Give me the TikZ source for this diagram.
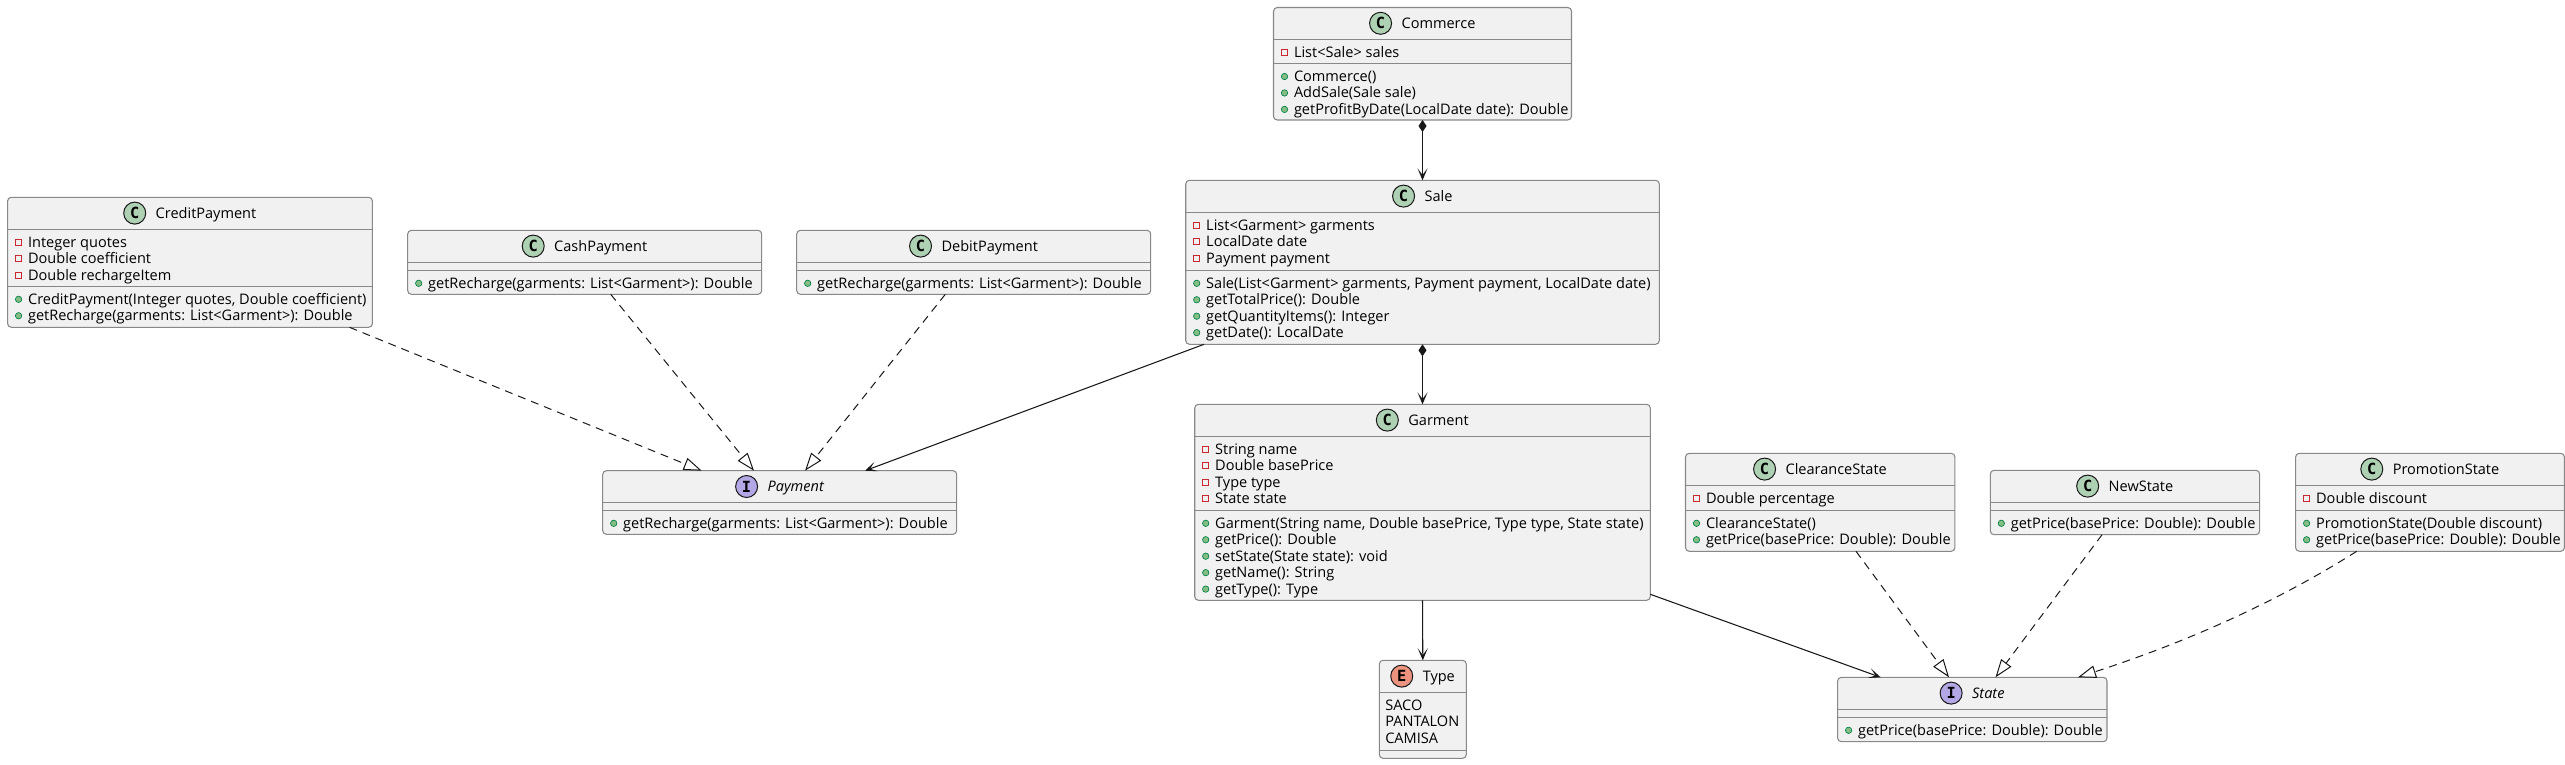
\documentclass[tikz,border=0pt]{standalone}
\usepackage{fontspec}
\setmainfont{Open Sans}
\newfontfamily\iconfont{DejaVu Sans Mono}
\usetikzlibrary{arrows.meta,calc}
\definecolor{boxfill}{HTML}{F1F1F1}
\definecolor{boxline}{HTML}{888888}
\definecolor{ink}{HTML}{181818}
\definecolor{iconC}{HTML}{ADD1B2}
\definecolor{iconI}{HTML}{B4A7E5}
\definecolor{iconE}{HTML}{EB937F}
\definecolor{privline}{HTML}{C82930}
\definecolor{pubfill}{HTML}{84BE84}
\definecolor{publine}{HTML}{038048}
\newcounter{tn}
\tikzset{
  umlbox/.style={draw=boxline,fill=boxfill,line width=0.8pt,rounded corners=2.8pt,inner sep=0pt,outer sep=0pt},
  umlsepline/.style={draw=boxline,line width=0.8pt},
  iconmark/.style={circle,draw=ink,line width=0.75pt,minimum size=16.5pt,inner sep=0pt,font=\iconfont\bfseries\fontsize{11.5}{12}\selectfont,text=black},
  headtext/.style={anchor=base,inner sep=0pt,outer sep=0pt,font=\fontsize{10.9}{12}\selectfont,text=black},
  membertext/.style={anchor=base west,inner sep=0pt,outer sep=0pt,font=\fontsize{10.9}{12}\selectfont,text=black},
  privmark/.style={rectangle,draw=privline,line width=0.6pt,minimum size=4.6pt,inner sep=0pt},
  pubmark/.style={circle,draw=publine,fill=pubfill,line width=0.5pt,minimum size=4.8pt,inner sep=0pt},
  assoc/.style={draw=ink,line width=0.8pt,-{Stealth[length=9pt,width=7.5pt,inset=5pt,fill=ink]}},
  compo/.style={draw=ink,line width=0.8pt,{Diamond[length=9pt,width=6pt,fill=ink]}-{Stealth[length=9pt,width=7.5pt,inset=5pt,fill=ink]}},
  realize/.style={draw=ink,line width=0.75pt,dash pattern=on 6pt off 4.5pt,-{Triangle[open,length=13.5pt,width=9.5pt,fill=white]}},
}
% id, x1, y1, x2, y2, sep1, sep2
\newcommand{\umlframe}[7]{%
  \node[umlbox,minimum width={(#4-#2)*0.75pt},minimum height={(#5-#3)*0.75pt}] (#1) at ({(#2+#4)/2},{(#3+#5)/2}) {};
  \draw[umlsepline] (#2,#6) -- (#4,#6);
  \draw[umlsepline] (#2,#7) -- (#4,#7);
}
% id, iconfill, letter, name
\newcommand{\umlhead}[4]{%
  \node[headtext] (#1name) at ($(#1.north)+(16,21)$) {#4};
  \node[iconmark,fill=#2] (#1icon) at ($(#1name.base west)+(-21,-5.2)$) {#3};
}
% box x1, separator y, mark style, items
\newcommand{\umlmembers}[4]{%
  \foreach \itm [count=\i from 0] in {#4}{%
    \stepcounter{tn}%
    \pgfmathsetmacro\yy{#2+18+16.45*\i}%
    \node[#3] (k\arabic{tn}) at ({#1+11},{\yy-5}) {};
    \node[membertext] (m\arabic{tn}) at ({#1+20.5},\yy) {\itm};
  }%
}
\newcommand{\umlitems}[3]{%
  \foreach \itm [count=\i from 0] in {#3}{%
    \stepcounter{tn}%
    \pgfmathsetmacro\yy{#2+18+16.45*\i}%
    \node[membertext] (m\arabic{tn}) at ({#1+6},\yy) {\itm};
  }%
}
\begin{document}
\begin{tikzpicture}[x=0.75pt,y=-0.75pt]
\useasboundingbox (0,0) rectangle (2565,764);
% Commerce
\umlframe{commerce}{1273.5}{7.5}{1571.5}{120}{39.5}{63.5}
\umlhead{commerce}{iconC}{C}{Commerce}
\umlmembers{1273.5}{39.5}{privmark}{{List<Sale> sales}}
\umlmembers{1273.5}{63.5}{pubmark}{{Commerce()},{AddSale(Sale sale)},{getProfitByDate(LocalDate date): Double}}
% Sale
\umlframe{sale}{1185.7}{180.3}{1659.3}{344.3}{212.3}{270.3}
\umlhead{sale}{iconC}{C}{Sale}
\umlmembers{1185.7}{212.3}{privmark}{{List<Garment> garments},{LocalDate date},{Payment payment}}
\umlmembers{1185.7}{270.3}{pubmark}{{Sale(List<Garment> garments, Payment payment, LocalDate date)},{getTotalPrice(): Double},{getQuantityItems(): Integer},{getDate(): LocalDate}}
% Garment
\umlframe{garment}{1194.7}{404.3}{1650.3}{600.3}{436.3}{510.3}
\umlhead{garment}{iconC}{C}{Garment}
\umlmembers{1194.7}{436.3}{privmark}{{String name},{Double basePrice},{Type type},{State state}}
\umlmembers{1194.7}{510.3}{pubmark}{{Garment(String name, Double basePrice, Type type, State state)},{getPrice(): Double},{setState(State state): void},{getName(): String},{getType(): Type}}
% Type
\umlframe{type}{1379.3}{660.3}{1466.3}{758.3}{692.3}{750.3}
\umlhead{type}{iconE}{E}{Type}
\umlitems{1379.3}{692.3}{{SACO},{PANTALON},{CAMISA}}
% CreditPayment
\umlframe{credit}{7.6}{197.3}{372.4}{327.3}{229.3}{286.3}
\umlhead{credit}{iconC}{C}{CreditPayment}
\umlmembers{7.6}{229.3}{privmark}{{Integer quotes},{Double coefficient},{Double rechargeItem}}
\umlmembers{7.6}{286.3}{pubmark}{{CreditPayment(Integer quotes, Double coefficient)},{getRecharge(garments: List<Garment>): Double}}
% CashPayment
\umlframe{cash}{407.7}{230.3}{761.7}{294.3}{262.3}{270.3}
\umlhead{cash}{iconC}{C}{CashPayment}
\umlmembers{407.7}{270.3}{pubmark}{{getRecharge(garments: List<Garment>): Double}}
% DebitPayment
\umlframe{debit}{796.7}{230.3}{1150.7}{294.3}{262.3}{270.3}
\umlhead{debit}{iconC}{C}{DebitPayment}
\umlmembers{796.7}{270.3}{pubmark}{{getRecharge(garments: List<Garment>): Double}}
% Payment
\umlframe{payment}{602.7}{470.7}{956.7}{534.3}{502.3}{510.3}
\umlhead{payment}{iconI}{I}{\itshape Payment}
\umlmembers{602.7}{510.3}{pubmark}{{getRecharge(garments: List<Garment>): Double}}
% ClearanceState
\umlframe{clearance}{1685.5}{453.3}{1954.9}{551.3}{485.3}{510.3}
\umlhead{clearance}{iconC}{C}{ClearanceState}
\umlmembers{1685.5}{485.3}{privmark}{{Double percentage}}
\umlmembers{1685.5}{510.3}{pubmark}{{ClearanceState()},{getPrice(basePrice: Double): Double}}
% NewState
\umlframe{newstate}{1990.3}{470.3}{2259.6}{534.7}{502.3}{510.3}
\umlhead{newstate}{iconC}{C}{NewState}
\umlmembers{1990.3}{510.3}{pubmark}{{getPrice(basePrice: Double): Double}}
% PromotionState
\umlframe{promotion}{2295.6}{453.3}{2564.4}{551.3}{485.3}{510.3}
\umlhead{promotion}{iconC}{C}{PromotionState}
\umlmembers{2295.6}{485.3}{privmark}{{Double discount}}
\umlmembers{2295.6}{510.3}{pubmark}{{PromotionState(Double discount)},{getPrice(basePrice: Double): Double}}
% State
\umlframe{state}{1837.6}{677.3}{2107}{741.7}{709.3}{717.3}
\umlhead{state}{iconI}{I}{\itshape State}
\umlmembers{1837.6}{717.3}{pubmark}{{getPrice(basePrice: Double): Double}}
% Connectors
\draw[compo] (commerce.south) -- (sale.north);
\draw[compo] (sale.south) -- (garment.north);
\draw[assoc] (garment.south) -- (type.north);
\draw[assoc] ($(sale.south west)+(18.3,0)$) -- ($(payment.north west)+(262.3,0)$);
\draw[assoc] ($(garment.south east)+(0,-6)$) -- ($(state.north west)+(43,0)$);
\draw[realize] ($(credit.south west)+(341.9,0)$) -- ($(payment.north west)+(99,0)$);
\draw[realize] ($(cash.south west)+(203,0)$) -- ($(payment.north west)+(151.3,0)$);
\draw[realize] ($(debit.south west)+(148.6,0)$) -- ($(payment.north west)+(202.3,0)$);
\draw[realize] ($(clearance.south west)+(170.5,0)$) -- ($(state.north west)+(111.4,0)$);
\draw[realize] ($(newstate.south west)+(111.7,0)$) -- ($(state.north west)+(157.9,0)$);
\draw[realize] ($(promotion.south west)+(61.1,0)$) .. controls ($(promotion.south west)+(-31.9,58.7)$) and ($(state.north west)+(333.4,-30.3)$) .. ($(state.north west)+(240.4,0)$);
\end{tikzpicture}
\end{document}
